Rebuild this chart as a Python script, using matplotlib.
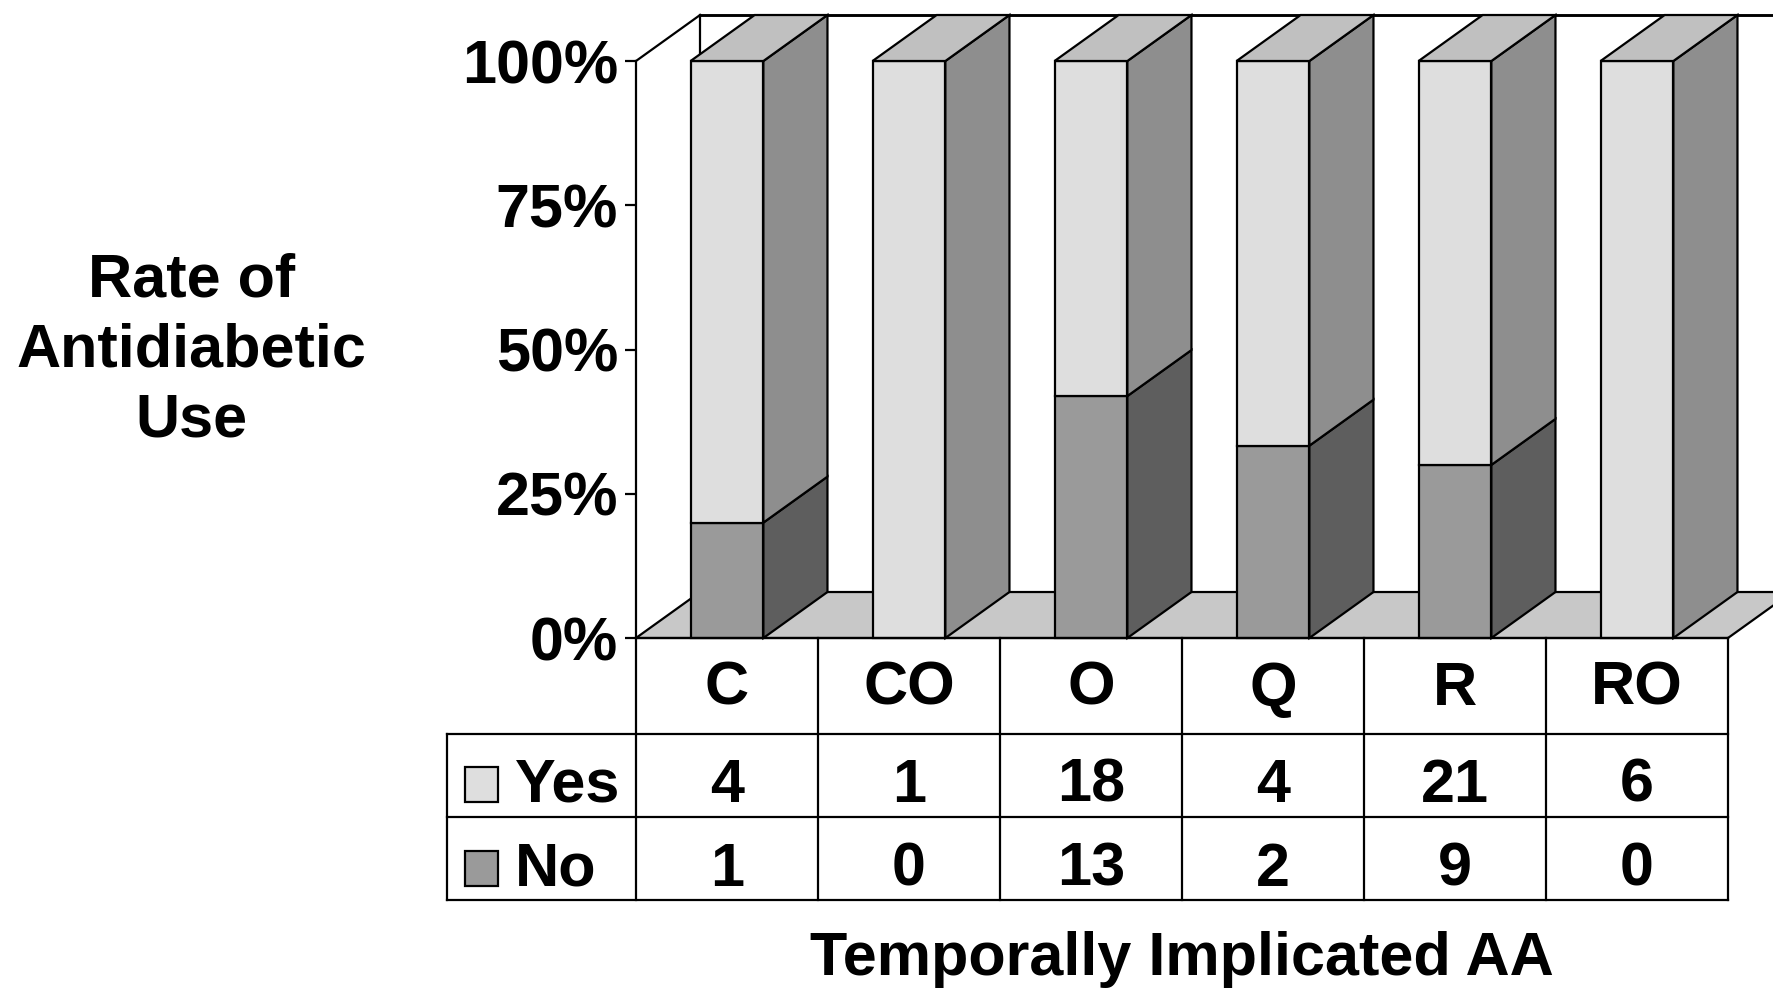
import matplotlib.pyplot as plt
import numpy as np
from matplotlib.patches import Polygon

plt.rcParams['font.family'] = ['Liberation Sans', 'DejaVu Sans']
plt.rcParams['font.weight'] = 'bold'

categories = ['C', 'CO', 'O', 'Q', 'R', 'RO']
yes = np.array([4, 1, 18, 4, 21, 6])
no = np.array([1, 0, 13, 2, 9, 0])
series = ['Yes', 'No']

total = yes + no
no_frac = no / total

W, H = 1773, 988
fig = plt.figure(figsize=(W / 100, H / 100), dpi=100)
ax = fig.add_axes([636 / W, 1 - 638 / H, 1092 / W, 577 / H])
ax.set_xlim(0, len(categories))
ax.set_ylim(0, 1)

# depth of the 3-D box (in data units) and bar geometry
DX, DY = 0.352, 0.0797
BW = 0.40
LW = 1.6

c_yes_front, c_yes_side = '#dedede', '#8e8e8e'
c_no_front, c_no_side = '#9a9a9a', '#5e5e5e'
c_top, c_floor = '#c0c0c0', '#c8c8c8'


def poly(pts, fc, z):
    ax.add_patch(Polygon(pts, closed=True, facecolor=fc, edgecolor='black',
                         lw=LW, clip_on=False, zorder=z, joinstyle='miter'))


n = len(categories)

# back wall and left wall outline
ax.plot([DX, n + DX], [1 + DY, 1 + DY], color='black', lw=LW * 1.3, clip_on=False, zorder=1)
ax.plot([DX, DX], [DY, 1 + DY], color='black', lw=LW, clip_on=False, zorder=1)
ax.plot([0, DX], [1, 1 + DY], color='black', lw=LW, clip_on=False, zorder=1)

# floor
poly([(0, 0), (n, 0), (n + DX, DY), (DX, DY)], c_floor, 2)

# stacked 3-D bars: No at the bottom, Yes on top
z = 3
for i in range(n):
    x0 = i + 0.5 - BW / 2
    x1 = x0 + BW
    segs = [(0, no_frac[i], c_no_front, c_no_side),
            (no_frac[i], 1.0, c_yes_front, c_yes_side)]
    for y0, y1, cf, cs in segs:
        if y1 - y0 <= 0:
            continue
        poly([(x0, y0), (x1, y0), (x1, y1), (x0, y1)], cf, z)
        poly([(x1, y0), (x1 + DX, y0 + DY), (x1 + DX, y1 + DY), (x1, y1)], cs, z)
        z += 1
    poly([(x0, 1), (x1, 1), (x1 + DX, 1 + DY), (x0 + DX, 1 + DY)], c_top, z)
    z += 1

# axes styling
for s in ['top', 'right', 'bottom']:
    ax.spines[s].set_visible(False)
ax.spines['left'].set_linewidth(LW)
ax.set_xticks([])
ax.set_yticks([0, 0.25, 0.5, 0.75, 1.0])
ax.set_yticklabels(['0%', '25%', '50%', '75%', '100%'])
ax.tick_params(axis='y', direction='out', length=8, width=LW, pad=5, labelsize=44)
ax.patch.set_visible(False)

ax.set_ylabel('Rate of\nAntidiabetic\nUse', rotation=0, fontsize=44,
              fontweight='bold', ha='center', va='center', linespacing=1.3)
ax.yaxis.set_label_coords(-0.407, 0.497)

# data table under the bars
h0 = 96 / 577
h1 = 83 / 577
xl = -1.038
bottom = -h0 - 2 * h1
tz = 50
ax.plot([0, n], [0, 0], color='black', lw=LW, clip_on=False, zorder=tz)
for k in range(n + 1):
    ax.plot([k, k], [0, bottom], color='black', lw=LW, clip_on=False, zorder=tz)
for yy in [-h0, -h0 - h1, bottom]:
    ax.plot([xl, n], [yy, yy], color='black', lw=LW, clip_on=False, zorder=tz)
ax.plot([xl, xl], [-h0, bottom], color='black', lw=LW, clip_on=False, zorder=tz)

fs = 44
for i, cat in enumerate(categories):
    ax.text(i + 0.5, -0.116, cat, ha='center', va='baseline', fontsize=fs,
            fontweight='bold', clip_on=False)
    ax.text(i + 0.5, -0.284, str(yes[i]), ha='center', va='baseline', fontsize=fs,
            fontweight='bold', clip_on=False)
    ax.text(i + 0.5, -0.429, str(no[i]), ha='center', va='baseline', fontsize=fs,
            fontweight='bold', clip_on=False)

# legend keys inside the table
kw = 33 / 182
kh = 35 / 577
for name, col, yb in [(series[0], c_yes_front, -0.284), (series[1], c_no_front, -0.429)]:
    ax.add_patch(plt.Rectangle((-0.940, yb), kw, kh, facecolor=col, edgecolor='black',
                               lw=LW, clip_on=False, zorder=tz))
    ax.text(-0.665, yb, name, ha='left', va='baseline', fontsize=fs,
            fontweight='bold', clip_on=False)

ax.text(n / 2, -0.584, 'Temporally Implicated AA', ha='center', va='baseline',
        fontsize=44, fontweight='bold', clip_on=False)

fig.savefig('out.png', dpi=100)
